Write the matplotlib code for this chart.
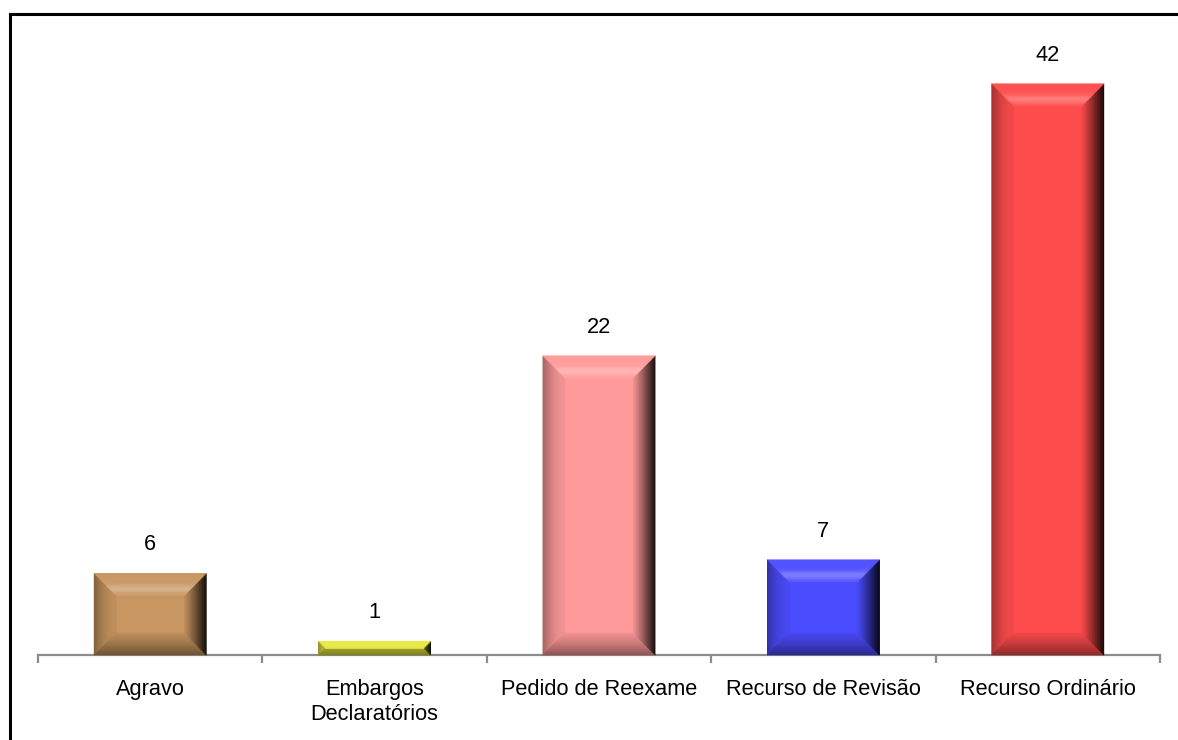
import matplotlib
matplotlib.use("Agg")
import matplotlib.pyplot as plt
import numpy as np
from matplotlib.collections import PolyCollection
from matplotlib.colors import to_rgb
from matplotlib.lines import Line2D
from matplotlib.transforms import IdentityTransform

CATEGORIES = ["Agravo", "Embargos\nDeclaratórios", "Pedido de Reexame",
              "Recurso de Revisão", "Recurso Ordinário"]
VALUES = [6, 1, 22, 7, 42]
COLORS = ["#C89660", "#E8E840", "#FF9A9A", "#4C4CFF", "#FF4C4C"]

plt.rcParams["font.family"] = ["Liberation Sans", "DejaVu Sans"]

W, H, DPI = 1178, 740, 100
YMAX = 46
PX_PER_UNIT = 13.6
FS = 15.7


def shade(rgb, k):
    # k > 0 lightens towards white, k < 0 darkens towards black
    rgb = np.asarray(rgb)
    if k >= 0:
        return np.clip(rgb + (1 - rgb) * k, 0, 1)
    return np.clip(rgb * (1 + k), 0, 1)


def add_bevel(fig, ax, bar, color, depth=22.0, steps=30):
    base = to_rgb(color)
    (x0, y0), (x1, y1) = ax.transData.transform(
        [(bar.get_x(), 0), (bar.get_x() + bar.get_width(), bar.get_height())])
    b = min(depth, (y1 - y0) / 2, (x1 - x0) / 2)
    ds = np.linspace(0, b, steps + 1)
    polys, cols = [], []
    for d0, d1 in zip(ds[:-1], ds[1:]):
        t = (d0 + d1) / 2 / depth  # 0 at outer edge, 1 at inner edge
        top = [(x0 + d0, y1 - d0), (x1 - d0, y1 - d0), (x1 - d1, y1 - d1), (x0 + d1, y1 - d1)]
        bot = [(x0 + d0, y0 + d0), (x1 - d0, y0 + d0), (x1 - d1, y0 + d1), (x0 + d1, y0 + d1)]
        left = [(x0 + d0, y0 + d0), (x0 + d0, y1 - d0), (x0 + d1, y1 - d1), (x0 + d1, y0 + d1)]
        right = [(x1 - d0, y0 + d0), (x1 - d0, y1 - d0), (x1 - d1, y1 - d1), (x1 - d1, y0 + d1)]
        k_top = 0.04 + 0.24 * np.exp(-((t - 0.72) / 0.2) ** 2)
        k_bot = -0.40 * (1 - t) ** 1.2 - 0.06
        k_left = -0.32 * (1 - t) ** 2 - 0.05
        k_right = -0.88 * (1 - t) ** 1.1 - 0.05
        for poly, k in ((left, k_left), (bot, k_bot), (right, k_right), (top, k_top)):
            polys.append(poly)
            cols.append(shade(base, k))
    pc = PolyCollection(polys, facecolors=cols, edgecolors=cols, linewidths=0.4,
                        transform=IdentityTransform(), zorder=3)
    fig.add_artist(pc)


fig = plt.figure(figsize=(W / DPI, H / DPI), dpi=DPI)
ax = fig.add_axes([38 / W, 85 / H, 1122 / W, YMAX * PX_PER_UNIT / H])

x = np.arange(len(VALUES))
bars = ax.bar(x, VALUES, width=0.5, color=COLORS, zorder=2)
ax.set_xlim(-0.5, len(VALUES) - 0.5)
ax.set_ylim(0, YMAX)

for bar, c in zip(bars, COLORS):
    add_bevel(fig, ax, bar, c)

for xi, v in zip(x, VALUES):
    ax.annotate(str(v), (xi, v), xytext=(0, 13), textcoords="offset points",
                ha="center", va="bottom", fontsize=FS)

for side in ("top", "left", "right"):
    ax.spines[side].set_visible(False)
ax.spines["bottom"].set_color("#8c8c8c")
ax.spines["bottom"].set_linewidth(1.6)
ax.set_yticks([])
ax.set_xticks(x)
ax.set_xticklabels(CATEGORIES, fontsize=FS, linespacing=1.3)
ax.tick_params(axis="x", which="major", length=0, pad=17)
ax.set_xticks(np.arange(-0.5, len(VALUES)), minor=True)
ax.tick_params(axis="x", which="minor", length=6, width=1.6, color="#8c8c8c")

# outer frame (left and top edges only)
fig.add_artist(Line2D([9.5 / W, 9.5 / W], [0, 1 - 13.5 / H], transform=fig.transFigure,
                      color="black", lw=2.2, solid_capstyle="projecting"))
fig.add_artist(Line2D([9.5 / W, 1], [1 - 13.5 / H, 1 - 13.5 / H], transform=fig.transFigure,
                      color="black", lw=2.2, solid_capstyle="projecting"))

fig.savefig("out.png", dpi=DPI)
